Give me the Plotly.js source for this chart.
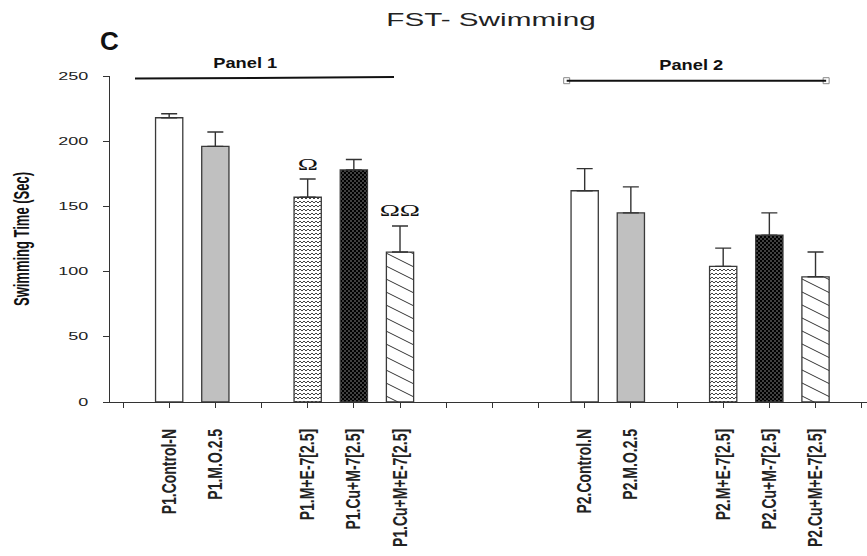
<!DOCTYPE html>
<html><head><meta charset="utf-8">
<script src="https://cdn.plot.ly/plotly-3.0.1.min.js"></script>
<style>html,body{margin:0;padding:0;background:#fff}#chart{width:867px;height:556px}</style>
</head><body><div id="chart"></div>
<script>
// ---- data ----
const slots = ['', 'P1.Control-N', 'P1.M.O.2.5', '', 'P1.M+E-7[2.5]', 'P1.Cu+M-7[2.5]', 'P1.Cu+M+E-7[2.5]', '', '', '',
               'P2.Control.N', 'P2.M.O.2.5', '', 'P2.M+E-7[2.5]', 'P2.Cu+M-7[2.5]', 'P2.Cu+M+E-7[2.5]', ''];
const p1Labels = ['P1.Control-N', 'P1.M.O.2.5', 'P1.M+E-7[2.5]', 'P1.Cu+M-7[2.5]', 'P1.Cu+M+E-7[2.5]'];
const p2Labels = ['P2.Control.N', 'P2.M.O.2.5', 'P2.M+E-7[2.5]', 'P2.Cu+M-7[2.5]', 'P2.Cu+M+E-7[2.5]'];
const p1Mean = [218, 196, 157, 178, 115];
const p1Err  = [3, 11, 14, 8, 20];
const p2Mean = [162, 145, 104, 128, 96];
const p2Err  = [17, 20, 14, 17, 19];
const p1Sig  = ['', '', 'Ω', '', 'ΩΩ'];
const panelNames = ['Panel 1', 'Panel 2'];
const yTicks = [0, 50, 100, 150, 200, 250];

// ---- styles ----
const fills = ['#ffffff', '#c0c0c0', '#ffffff', '#000000', '#ffffff'];
const customFill = [null, null, 'zig', 'dots', 'diag'];
const sans = 'Liberation Sans, Arial, sans-serif';

const traces = fills.map((c, g) => ({
  type: 'bar',
  x: [slots.indexOf(p1Labels[g]), slots.indexOf(p2Labels[g])],
  y: [p1Mean[g], p2Mean[g]],
  width: 0.59,
  marker: {color: c, line: {color: '#3a3a3a', width: 1.3}},
  error_y: {type: 'data', symmetric: false, array: [p1Err[g], p2Err[g]], arrayminus: [0, 0],
            color: '#333', thickness: 1.4, width: 8},
  hoverinfo: 'skip', showlegend: false
}));

const p1x0 = 0.26, p1x1 = 5.87, p2x0 = 9.61, p2x1 = 15.23;
traces.push({
  type: 'scatter', mode: 'markers', x: [p2x0, p2x1], y: [246.4, 246.4],
  marker: {symbol: 'square', size: 6, color: '#fff', line: {color: '#888', width: 1}},
  cliponaxis: false, hoverinfo: 'skip', showlegend: false
});

const annotations = [
  {xref: 'paper', yref: 'paper', x: -0.0013, y: 1.108, text: 'C', showarrow: false,
   xanchor: 'center', yanchor: 'middle', font: {family: sans, size: 26, color: '#111', weight: 'bold'}},
  {xref: 'x', yref: 'paper', x: 2.66, y: 1.0408, text: panelNames[0], showarrow: false,
   xanchor: 'center', yanchor: 'middle', font: {family: sans, size: 15, color: '#111', weight: 'bold'}},
  {xref: 'x', yref: 'paper', x: 12.32, y: 1.0347, text: panelNames[1], showarrow: false,
   xanchor: 'center', yanchor: 'middle', font: {family: sans, size: 15, color: '#111', weight: 'bold'}}
];
p1Sig.forEach((s, g) => {
  if (!s) return;
  annotations.push({xref: 'x', yref: 'y', x: slots.indexOf(p1Labels[g]), y: p1Mean[g] + p1Err[g],
    text: s, showarrow: false, xanchor: 'center', yanchor: 'middle', yshift: 15,
    font: {family: 'Liberation Serif, Times New Roman, serif', size: 16, color: '#111'}});
});

const layout = {
  width: 867, height: 556,
  margin: {l: 110, r: 0, t: 76, b: 154},
  paper_bgcolor: '#fff', plot_bgcolor: '#fff',
  title: {text: 'FST- Swimming', x: 491 / 867, xref: 'container', xanchor: 'center',
          y: 1 - 20 / 556, yref: 'container', yanchor: 'middle',
          font: {family: sans, size: 18, color: '#222'}},
  bargap: 0,
  xaxis: {range: [-0.2816, 16.115], tickmode: 'array', tickvals: slots.map((s, i) => i), ticktext: slots,
          tickangle: -90, ticks: 'outside', ticklen: 5, tickcolor: '#333', showline: true,
          linecolor: '#333', linewidth: 1.3, showgrid: false, zeroline: false, ticklabelstandoff: 15,
          tickfont: {family: sans, size: 14, color: '#222', weight: 'bold'}},
  yaxis: {range: [0, 250], tickmode: 'array', tickvals: yTicks, ticks: 'outside', ticklen: 6,
          tickcolor: '#333', showline: true, linecolor: '#333', linewidth: 1.3, showgrid: false,
          zeroline: false, ticklabelstandoff: 12,
          tickfont: {family: sans, size: 10, color: '#222'},
          title: {text: 'Swimming Time (Sec)', standoff: 42, font: {family: sans, size: 13, color: '#111'}}},
  shapes: [
    {type: 'line', xref: 'x', yref: 'y', x0: p1x0, x1: p1x1, y0: 248, y1: 249.2, line: {color: '#111', width: 2}},
    {type: 'line', xref: 'x', yref: 'y', x0: p2x0, x1: p2x1, y0: 246.4, y1: 246.4, line: {color: '#111', width: 2}}
  ],
  annotations: annotations
};

function stretch(el, sx, sy, ax) {
  const b = el.getBBox();
  const cx = ax === 'right' ? b.x + b.width : (ax === 'left' ? b.x : b.x + b.width / 2);
  const cy = b.y + b.height / 2;
  const t = el.getAttribute('transform') || '';
  el.setAttribute('transform', t + ` translate(${cx},${cy}) scale(${sx},${sy}) translate(${-cx},${-cy})`);
}

const NS = 'http://www.w3.org/2000/svg';
function addPatterns(svg) {
  const defs = document.createElementNS(NS, 'defs');
  defs.innerHTML =
    '<pattern id="zig" patternUnits="userSpaceOnUse" width="8" height="4">' +
      '<rect width="8" height="4" fill="#fff"/>' +
      '<path d="M-2,1 L0,3 L2,1 L4,3 L6,1 L8,3 L10,1" fill="none" stroke="#444" stroke-width="1"/></pattern>' +
    '<pattern id="dots" patternUnits="userSpaceOnUse" width="4" height="4">' +
      '<rect width="4" height="4" fill="#000"/>' +
      '<rect x="0.5" y="0.5" width="1" height="1" fill="#fff"/><rect x="2.5" y="2.5" width="1" height="1" fill="#fff"/></pattern>' +
    '<pattern id="diag" patternUnits="userSpaceOnUse" width="26" height="13">' +
      '<rect width="26" height="13" fill="#fff"/>' +
      '<path d="M-26,-13 L52,26 M-26,0 L26,26 M0,-13 L52,13" fill="none" stroke="#333" stroke-width="1"/></pattern>';
  svg.insertBefore(defs, svg.firstChild);
}

const gd = document.getElementById('chart');
Plotly.newPlot(gd, traces, layout, {staticPlot: true, displayModeBar: false}).then(() => {
  const svg = gd.querySelector('svg.main-svg');
  addPatterns(svg);
  const groups = gd.querySelectorAll('.barlayer .trace');
  groups.forEach((grp, i) => {
    if (!customFill[i]) return;
    grp.querySelectorAll('.point path').forEach(p => { p.style.fill = `url(#${customFill[i]})`; });
  });
  const title = gd.querySelector('.gtitle');
  if (title) stretch(title, 1.65, 1, 'center');
  gd.querySelectorAll('.ytick text').forEach(t => stretch(t, 1.8, 1, 'right'));
  const yt = gd.querySelector('.g-ytitle text');
  if (yt) { yt.style.fontWeight = '600'; stretch(yt, 1, 1.7, 'center'); }
  gd.querySelectorAll('.xtick text').forEach(t => stretch(t, 1, 1.4, 'center'));
  gd.querySelectorAll('.annotation').forEach(a => {
    const i = +a.getAttribute('data-index');
    const t = a.querySelector('text');
    if (!t) return;
    if (i === 1 || i === 2) stretch(t, 1.22, 1, 'center');
    if (i >= 3) stretch(t, 1.7, 1.05, 'center');
  });
});
</script>
</body></html>
